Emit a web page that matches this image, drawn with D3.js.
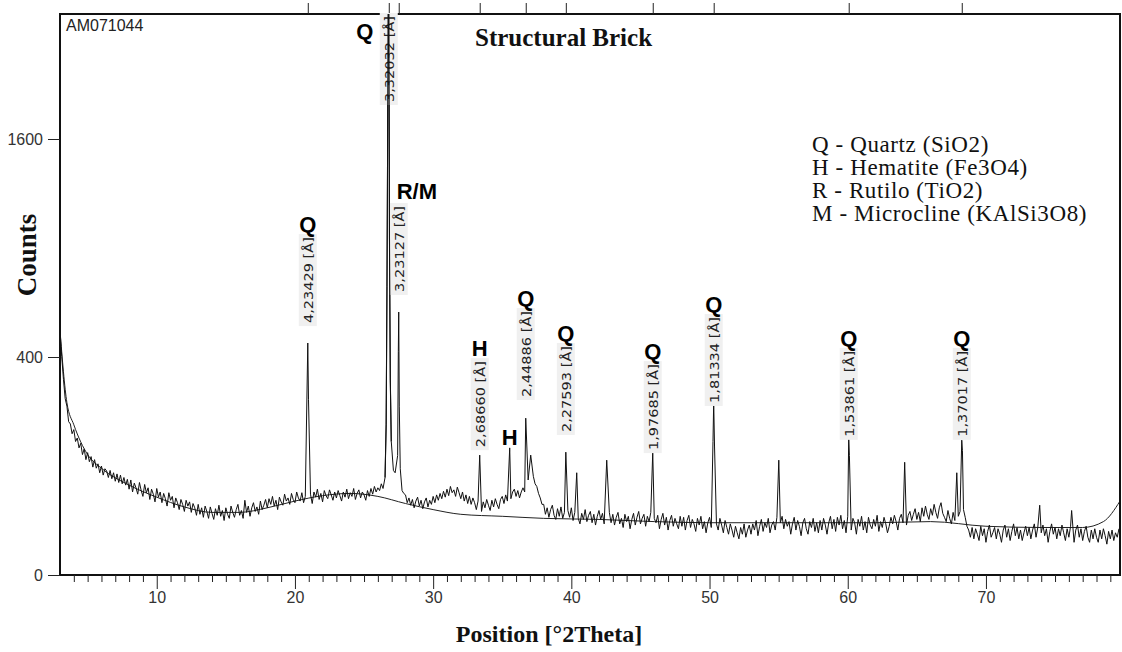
<!DOCTYPE html>
<html>
<head>
<meta charset="utf-8">
<script src="https://cdn.jsdelivr.net/npm/d3@7"></script>
<style>
  body { margin: 0; background: #fff; }
  svg { display: block; }
</style>
</head>
<body>
<script>
// XRD scan: counts every 0.125 deg, starting at 3.000 deg
const scanStart = 3.0;
const scanStep = 0.125;
const scanCounts = [
  503, 402, 322, 262, 240, 198, 192, 168, 178, 150, 158, 136, 146, 122, 134, 112, 126, 108, 118, 98, 112, 96, 104, 88, 100, 84, 95, 91, 80, 92, 78, 88, 74, 86, 72, 84, 70, 80, 68, 77,
  62, 76, 58, 71, 64, 55, 72, 60, 52, 69, 57, 64, 48, 62, 55, 45, 63, 51, 58, 44, 56, 49, 40, 57, 47, 52, 38, 50, 44, 36, 48, 42, 34, 47, 40, 45, 33, 43, 38, 30,
  42, 31, 38, 28, 40, 34, 27, 39, 32, 26, 37, 30, 41, 29, 35, 25, 38, 31, 27, 40, 33, 28, 36, 42, 30, 35, 27, 47, 33, 40, 29, 38, 44, 34, 39, 31, 46, 36, 41, 48,
  38, 49, 42, 52, 40, 47, 36, 51, 45, 41, 55, 46, 50, 42, 56, 48, 44, 58, 50, 46, 57, 44, 52, 60, 47, 55, 43, 58, 51, 62, 48, 56, 45, 60, 53, 49, 61, 54, 47, 58,
  50, 60, 53, 46, 58, 51, 62, 49, 57, 52, 63, 48, 56, 61, 50, 58, 54, 47, 60, 52, 63, 55, 66, 58, 64, 60, 70, 63, 72, 78, 85, 90, 96, 92, 88, 84, 70, 64, 60, 56,
  54, 44, 50, 41, 48, 38, 46, 51, 40, 47, 37, 45, 50, 39, 47, 42, 52, 44, 54, 47, 56, 49, 59, 51, 62, 53, 66, 57, 61, 52, 65, 57, 49, 58, 46, 54, 43, 52, 42, 50,
  44, 36, 46, 40, 34, 45, 38, 48, 41, 35, 47, 39, 49, 42, 37, 48, 52, 43, 54, 46, 57, 49, 58, 62, 52, 60, 50, 58, 64, 58, 66, 76, 92, 88, 82, 70, 66, 56, 50, 42,
  42, 31, 38, 28, 36, 41, 30, 26, 37, 29, 39, 27, 33, 24, 35, 28, 38, 25, 33, 36, 27, 22, 32, 26, 36, 24, 30, 34, 23, 31, 21, 29, 35, 26, 32, 22, 30, 25, 33, 23,
  31, 21, 28, 33, 22, 27, 19, 31, 24, 29, 18, 26, 32, 21, 28, 34, 22, 27, 31, 20, 29, 24, 33, 19, 27, 23, 30, 18, 26, 32, 21, 28, 17, 25, 30, 20, 27, 22, 18, 29,
  20, 28, 17, 25, 30, 19, 26, 22, 16, 27, 21, 29, 18, 24, 15, 23, 28, 19, 26, 31, 22, 17, 27, 21, 15, 25, 19, 14, 22, 17, 12, 20, 15, 11, 19, 14, 22, 12, 17, 21,
  14, 22, 17, 25, 13, 20, 26, 16, 23, 19, 27, 15, 21, 24, 17, 28, 19, 23, 29, 18, 26, 20, 24, 14, 22, 28, 17, 25, 20, 13, 23, 27, 18, 14, 24, 19, 27, 16, 23, 15,
  25, 17, 27, 21, 14, 23, 29, 18, 26, 16, 28, 21, 30, 18, 25, 15, 29, 22, 17, 27, 23, 14, 26, 20, 29, 17, 24, 15, 28, 21, 18, 26, 20, 30, 16, 24, 19, 28, 22, 15,
  20, 28, 22, 30, 24, 17, 27, 31, 23, 29, 21, 30, 34, 25, 31, 37, 26, 33, 24, 38, 29, 40, 31, 26, 37, 30, 42, 33, 27, 38, 44, 32, 28, 24, 35, 27, 22, 33, 25, 30,
  29, 34, 38, 36, 28, 20, 17, 12, 19, 11, 18, 14, 10, 20, 13, 18, 9, 16, 21, 12, 15, 19, 11, 18, 14, 9, 17, 21, 12, 18, 10, 16, 22, 13, 19, 11, 17, 10, 15, 20,
  13, 19, 11, 17, 22, 12, 19, 10, 15, 21, 13, 18, 9, 16, 22, 14, 19, 11, 18, 13, 21, 15, 10, 18, 12, 20, 14, 9, 17, 21, 12, 18, 10, 16, 20, 12, 9, 17, 11, 18,
  12, 9, 17, 11, 18, 13, 8, 16, 11, 17, 10, 15, 12, 18
];

// sharp reflections (points on the peaks)
const peakTheta = [20.93, 20.98, 26.52, 26.60, 26.66, 26.70, 26.74, 26.80, 26.84, 26.90, 26.97,
  27.43, 27.48, 27.51, 27.55, 27.62, 33.37, 35.54, 36.70, 37.06, 39.60, 40.39, 42.56, 45.89,
  50.25, 50.30, 50.36, 55.01, 60.07, 60.12, 64.12, 67.89, 68.25, 68.30, 73.89, 76.20];
const peakCounts = [453, 260, 80, 190, 700, 1429, 2700, 2700, 950, 320, 150,
  120, 420, 582, 240, 95, 121, 136, 207, 121, 127, 88, 111, 127,
  150, 252, 140, 111, 160, 120, 107, 88, 153, 130, 41, 35];

// fitted background
const bgTheta = [3, 3.5, 4, 5, 6, 8, 10, 12, 14, 16, 18, 20, 22, 24, 26, 28, 30, 32, 35, 38,
  42, 46, 50, 54, 58, 62, 66, 70, 74, 77, 78.5, 79.7];
const bgCounts = [503, 250, 190, 122, 96, 68, 51, 39, 33, 33, 38, 46, 53, 56, 52, 43, 36, 31, 29, 27,
  26, 24, 23, 23, 23, 23, 24, 20, 19, 19, 24, 46];

// peak annotations
const labelTheta = [20.93, 26.79, 27.51, 33.37, 35.54, 36.70, 39.60, 45.89, 50.30, 60.07, 68.25];
const labelCounts = [509, 3000, 646, 125, 138, 249, 158, 119, 232, 147, 147];
const labelD = ["4,23429", "3,32032", "3,23127", "2,68660", "", "2,44886", "2,27593", "1,97685", "1,81334", "1,53861", "1,37017"];
const labelPhase = ["Q", "Q", "R/M", "H", "H", "Q", "Q", "Q", "Q", "Q", "Q"];

const yTicks = [0, 400, 1600];
const xTicks = [10, 20, 30, 40, 50, 60, 70];
const legendLines = ["Q - Quartz (SiO2)", "H - Hematite (Fe3O4)", "R - Rutilo (TiO2)", "M - Microcline (KAlSi3O8)"];

const width = 1122, height = 652;
let svg = null;
let x, y = null;
let scanLine = null;

setupScales();
appendSvg("body");
appendPattern();
appendFrame();
appendAxes();
appendPeakLabels();
appendTexts();

function setupScales() {
  x = d3.scaleLinear().domain([3, 79.7]).range([60, 1120]);
  y = d3.scaleSqrt().domain([0, 2649]).range([575, 14]);
  scanLine = d3.line()
    .x(function(d) { return x(d[0]); })
    .y(function(d) { return y(d[1]); });
}

function appendSvg(domElement) {
  svg = d3.select(domElement).append("svg")
    .attr("width", width)
    .attr("height", height);
  svg.append("rect").attr("width", width).attr("height", height).attr("fill", "#fff");
  svg.append("clipPath").attr("id", "plotClip")
    .append("rect")
    .attr("x", 60).attr("y", 14)
    .attr("width", 1060).attr("height", 561);
}

function scanPoints() {
  let pts = [];
  scanCounts.forEach(function(c, i) {
    let t = scanStart + i * scanStep;
    let nearPeak = peakTheta.some(function(p) { return Math.abs(p - t) < 0.07; });
    if (!nearPeak) pts.push([t, c]);
  });
  peakTheta.forEach(function(t, i) { pts.push([t, peakCounts[i]]); });
  pts.sort(function(a, b) { return a[0] - b[0]; });
  return pts;
}

function appendPattern() {
  let g = svg.append("g").attr("clip-path", "url(#plotClip)");

  g.append("path")
    .datum(bgTheta.map(function(t, i) { return [t, bgCounts[i]]; }))
    .attr("fill", "none")
    .attr("stroke", "#222")
    .attr("stroke-width", 1)
    .attr("d", d3.line()
      .x(function(d) { return x(d[0]); })
      .y(function(d) { return y(d[1]); })
      .curve(d3.curveMonotoneX));

  g.append("path")
    .datum(scanPoints())
    .attr("fill", "none")
    .attr("stroke", "#111")
    .attr("stroke-width", 1)
    .attr("d", scanLine);
}

function appendFrame() {
  svg.append("rect")
    .attr("x", 60).attr("y", 14)
    .attr("width", 1060).attr("height", 561)
    .attr("fill", "none")
    .attr("stroke", "#111")
    .attr("stroke-width", 2);
}

function styleAxis(g) {
  g.select(".domain").remove();
  g.selectAll("line").attr("stroke", "#222");
  g.selectAll("text")
    .attr("font-family", "Liberation Sans, Arial, sans-serif")
    .attr("font-size", 16)
    .attr("fill", "#333");
}

function appendAxes() {
  // x axis, minor ticks every degree
  let minor = d3.range(4, 80).filter(function(d) { return d % 10 !== 0; });
  svg.append("g")
    .attr("transform", "translate(0,575)")
    .call(d3.axisBottom(x).tickValues(minor).tickSize(7).tickFormat(""))
    .call(styleAxis);

  svg.append("g")
    .attr("transform", "translate(0,575)")
    .call(d3.axisBottom(x).tickValues(xTicks).tickSize(14).tickPadding(3).tickFormat(d3.format("d")))
    .call(styleAxis);

  svg.append("g")
    .attr("transform", "translate(60,0)")
    .call(d3.axisLeft(y).tickValues(yTicks).tickSize(12).tickPadding(5).tickFormat(d3.format("d")))
    .call(styleAxis);

  // reference marks along the top for the labelled peaks
  let marked = labelTheta.filter(function(t, i) { return labelD[i] !== ""; });
  svg.append("g")
    .attr("transform", "translate(0,14)")
    .call(d3.axisTop(x).tickValues(marked).tickSize(11).tickFormat(""))
    .call(styleAxis);
}

function appendPeakLabels() {
  let L = 86;
  let g = svg.append("g");
  labelTheta.forEach(function(t, i) {
    let px = x(t);
    let phase = labelPhase[i];
    if (labelD[i] === "") {
      g.append("text")
        .attr("x", px).attr("y", y(labelCounts[i]) - 2)
        .attr("text-anchor", "middle")
        .attr("font-family", "Liberation Sans, Arial, sans-serif")
        .attr("font-weight", "bold").attr("font-size", 22)
        .attr("fill", "#000")
        .text(phase);
      return;
    }
    let bottom = y(Math.min(labelCounts[i], 2649)) - 6;
    let top = bottom - L;
    let clamped = false;
    if (top < 16) { top = 16; bottom = top + L; clamped = true; }

    g.append("rect")
      .attr("x", px - 9).attr("y", top - 3)
      .attr("width", 18).attr("height", L + 6)
      .attr("fill", "#f0f0f0");

    g.append("text")
      .attr("transform", "translate(" + (px + 5) + "," + bottom + ") rotate(-90)")
      .attr("font-family", "DejaVu Sans, sans-serif")
      .attr("font-size", 13)
      .attr("fill", "#222")
      .attr("textLength", L)
      .attr("lengthAdjust", "spacingAndGlyphs")
      .text(labelD[i] + " [Å]");

    let lx = px, ly = top - 5, anchor = "middle";
    if (clamped) { lx = px - 24; ly = top + 23; }
    else if (phase.length > 1) { lx = px - 2; anchor = "start"; ly = top - 7; }
    g.append("text")
      .attr("x", lx).attr("y", ly)
      .attr("text-anchor", anchor)
      .attr("font-family", "Liberation Sans, Arial, sans-serif")
      .attr("font-weight", "bold").attr("font-size", 22)
      .attr("fill", "#000")
      .text(phase);
  });
  // redraw the main peak line over its label
  svg.append("path")
    .attr("clip-path", "url(#plotClip)")
    .datum(scanPoints().filter(function(d) { return d[0] > 26.4 && d[0] < 27.1; }))
    .attr("fill", "none")
    .attr("stroke", "#111")
    .attr("stroke-width", 1.1)
    .attr("d", scanLine);
}

function appendTexts() {
  svg.append("text")
    .attr("x", 66).attr("y", 31)
    .attr("font-family", "Liberation Sans, Arial, sans-serif")
    .attr("font-size", 16)
    .attr("fill", "#222")
    .text("AM071044");

  svg.append("text")
    .attr("x", 475).attr("y", 46)
    .attr("font-family", "Liberation Serif, Times New Roman, serif")
    .attr("font-weight", "bold").attr("font-size", 25)
    .attr("fill", "#111")
    .text("Structural Brick");

  svg.append("g").selectAll("text")
    .data(legendLines)
    .enter().append("text")
      .attr("x", 812)
      .attr("y", function(d, i) { return 152 + i * 23; })
      .attr("font-family", "Liberation Serif, Times New Roman, serif")
      .attr("font-size", 23)
      .attr("letter-spacing", 0.6)
      .attr("fill", "#111")
      .text(function(d) { return d; });

  svg.append("text")
    .attr("transform", "translate(36,255) rotate(-90)")
    .attr("text-anchor", "middle")
    .attr("font-family", "Liberation Serif, Times New Roman, serif")
    .attr("font-weight", "bold").attr("font-size", 27)
    .attr("fill", "#111")
    .text("Counts");

  svg.append("text")
    .attr("x", 549).attr("y", 642)
    .attr("text-anchor", "middle")
    .attr("font-family", "Liberation Serif, Times New Roman, serif")
    .attr("font-weight", "bold").attr("font-size", 24)
    .attr("fill", "#111")
    .text("Position [°2Theta]");
}
</script>
</body>
</html>
